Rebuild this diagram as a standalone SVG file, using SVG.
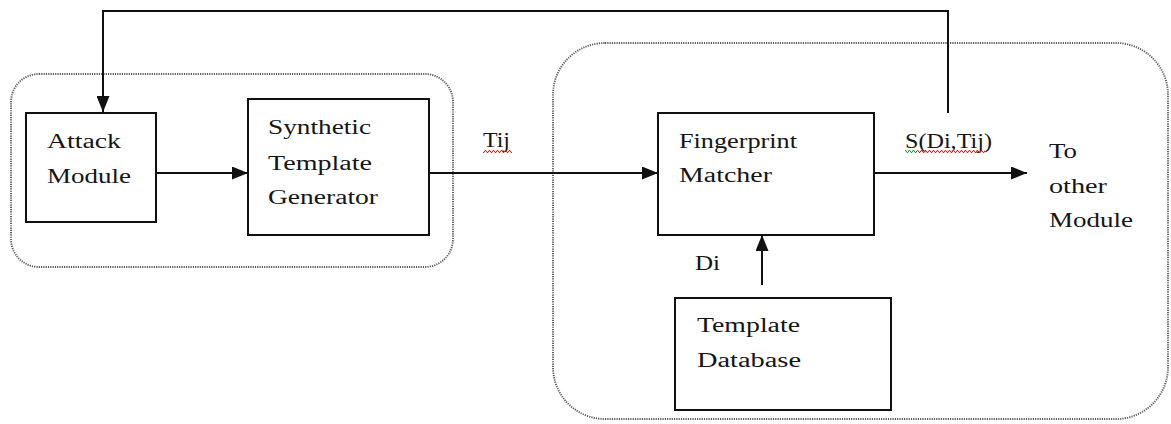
<svg xmlns="http://www.w3.org/2000/svg" width="1171" height="424" viewBox="0 0 1171 424">
  <style>
    .grp { fill: none; stroke: #5a5a5a; stroke-width: 1.9; stroke-dasharray: 1.2 1.1; }
    .box { fill: #ffffff; stroke: #111111; stroke-width: 2; }
    .wire { fill: none; stroke: #111111; stroke-width: 2; }
    text { font-size: 20px; fill: #161616; }
  </style>
  <defs>
    <marker id="arrow" markerUnits="userSpaceOnUse" markerWidth="16" markerHeight="13" refX="16" refY="6.5" orient="auto">
      <path d="M0,0 L16,6.5 L0,13 z" fill="#111111"/>
    </marker>
    <!-- wavy proofing underlines -->
    <pattern id="waveRed" patternUnits="userSpaceOnUse" width="4" height="3">
      <polyline points="0,2.5 1,0.5 2,0.5 3,2.5 4,2.5" fill="none" stroke="#e8201c" stroke-width="1"/>
    </pattern>
    <pattern id="waveGreen" patternUnits="userSpaceOnUse" width="4" height="3">
      <polyline points="0,2.5 1,0.5 2,0.5 3,2.5 4,2.5" fill="none" stroke="#1f9a2a" stroke-width="1"/>
    </pattern>
  </defs>

  <!-- dotted grouping outlines -->
  <g id="group-attack">
    <rect class="grp" x="11" y="74" width="442" height="193" rx="28" ry="28"/>
  </g>
  <g id="group-matching">
    <rect class="grp" x="553" y="43" width="615" height="376" rx="52" ry="52"/>
  </g>

  <!-- connectors -->
  <g id="connectors">
    <path class="wire" d="M948,113 V11 H103 V112" marker-end="url(#arrow)"/>
    <path class="wire" d="M156,173 H248" marker-end="url(#arrow)"/>
    <path class="wire" d="M429,173 H658" marker-end="url(#arrow)"/>
    <path class="wire" d="M874,173 H1027" marker-end="url(#arrow)"/>
    <path class="wire" d="M762,285 V235" marker-end="url(#arrow)"/>
  </g>

  <g font-family="Liberation Serif, Times New Roman, serif">
    <!-- nodes -->
    <g id="attack-module">
      <rect class="box" x="26" y="113" width="130" height="109"/>
      <text x="47" y="148" textLength="74" lengthAdjust="spacingAndGlyphs">Attack</text>
      <text x="47" y="183" textLength="84" lengthAdjust="spacingAndGlyphs">Module</text>
    </g>

    <g id="synthetic-template-generator">
      <rect class="box" x="248" y="99" width="181" height="136"/>
      <text x="268" y="134" textLength="103" lengthAdjust="spacingAndGlyphs">Synthetic</text>
      <text x="268" y="170" textLength="104" lengthAdjust="spacingAndGlyphs">Template</text>
      <text x="268" y="204" textLength="110" lengthAdjust="spacingAndGlyphs">Generator</text>
    </g>

    <g id="fingerprint-matcher">
      <rect class="box" x="658" y="113" width="216" height="122"/>
      <text x="679" y="148" textLength="118" lengthAdjust="spacingAndGlyphs">Fingerprint</text>
      <text x="679" y="182" textLength="93" lengthAdjust="spacingAndGlyphs">Matcher</text>
    </g>

    <g id="template-database">
      <rect class="box" x="675" y="298" width="216" height="112"/>
      <text x="697" y="332" textLength="103" lengthAdjust="spacingAndGlyphs">Template</text>
      <text x="697" y="367" textLength="104" lengthAdjust="spacingAndGlyphs">Database</text>
    </g>

    <!-- edge labels -->
    <g id="labels">
      <text x="483" y="147" textLength="27" lengthAdjust="spacingAndGlyphs">Tij</text>
      <rect x="483" y="150" width="29" height="3" fill="url(#waveRed)"/>

      <text x="695" y="270" textLength="25" lengthAdjust="spacingAndGlyphs">Di</text>

      <text x="905" y="148" textLength="87" lengthAdjust="spacingAndGlyphs">S(Di,Tij)</text>
      <rect x="905" y="150" width="12" height="3" fill="url(#waveGreen)"/>
      <rect x="917" y="150" width="68" height="3" fill="url(#waveRed)"/>

      <text x="1049" y="158" textLength="28" lengthAdjust="spacingAndGlyphs">To</text>
      <text x="1049" y="193" textLength="58" lengthAdjust="spacingAndGlyphs">other</text>
      <text x="1049" y="227" textLength="84" lengthAdjust="spacingAndGlyphs">Module</text>
    </g>
  </g>
</svg>
